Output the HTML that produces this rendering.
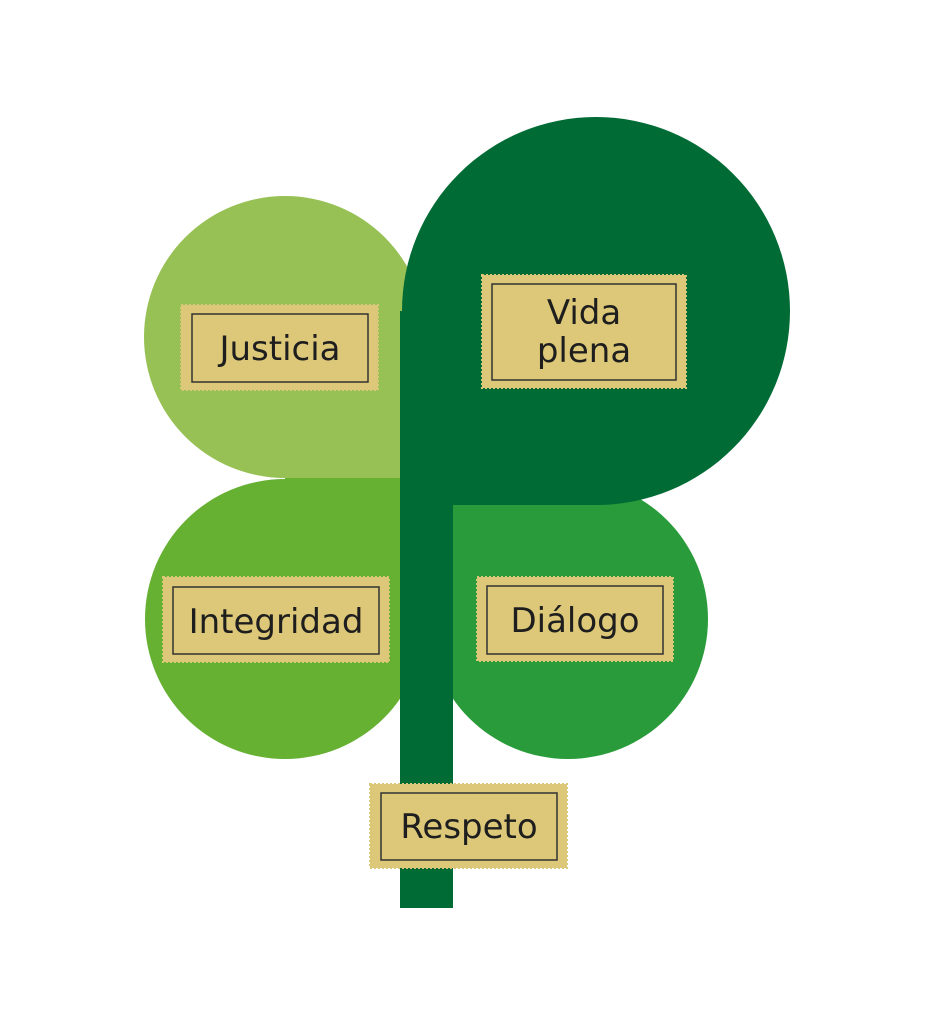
<!DOCTYPE html>
<html><head><meta charset="utf-8"><style>
html,body{margin:0;padding:0;background:#fff;width:942px;height:1024px;overflow:hidden}
svg{display:block}
text{font-family:"DejaVu Sans","Liberation Sans",sans-serif;font-size:34px;fill:#1e1e1e;text-anchor:middle}
</style></head><body>
<svg width="942" height="1024" viewBox="0 0 942 1024" xmlns="http://www.w3.org/2000/svg">
<circle cx="285" cy="337" r="141" fill="#97c155"/>
<rect x="285" y="337" width="120" height="141" fill="#97c155"/>
<circle cx="285" cy="619" r="140" fill="#66b032"/>
<rect x="285" y="478" width="120" height="141" fill="#66b032"/>
<circle cx="568" cy="619" r="140" fill="#2a9b3a"/>
<rect x="450" y="490" width="118" height="129" fill="#2a9b3a"/>
<circle cx="596" cy="311" r="194" fill="#006b35"/>
<rect x="400" y="311" width="196" height="194" fill="#006b35"/>
<rect x="400" y="311" width="53" height="597" fill="#006b35"/>
<g stroke="#d9c877" stroke-width="2" stroke-dasharray="2 2">
<rect x="181" y="305" width="197" height="85" fill="#dcc878"/>
<rect x="482" y="275" width="204" height="113" fill="#dcc878"/>
<rect x="163" y="577" width="226" height="85" fill="#dcc878"/>
<rect x="477" y="577" width="196" height="84" fill="#dcc878"/>
<rect x="370" y="784" width="197" height="84" fill="#dcc878"/>
</g>
<g fill="none" stroke="#333" stroke-width="1.5">
<rect x="192" y="314" width="176" height="68"/>
<rect x="492" y="284" width="184" height="96"/>
<rect x="173" y="587" width="206" height="67"/>
<rect x="487" y="586" width="176" height="68"/>
<rect x="381" y="793" width="176" height="67"/>
</g>
<text x="280" y="360">Justicia</text>
<text x="584" y="324">Vida</text>
<text x="584" y="362">plena</text>
<text x="276" y="633">Integridad</text>
<text x="575" y="632">Diálogo</text>
<text x="469" y="838">Respeto</text>
</svg>
</body></html>
